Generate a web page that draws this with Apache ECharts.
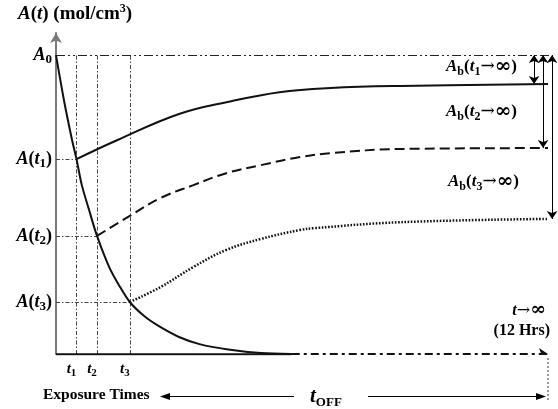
<!DOCTYPE html>
<html>
<head>
<meta charset="utf-8">
<script src="https://cdn.jsdelivr.net/npm/echarts@6/dist/echarts.min.js"></script>
<style>
  html, body { margin: 0; padding: 0; background: #fff; }
  #chart { width: 558px; height: 409px; }
</style>
</head>
<body>
<div id="chart"></div>
<script>
// 曝光后浓度衰减曲线 (A/A0, 时间为任意单位, 12 = 12 Hrs)
const decayT = [0, 0.2, 0.39, 0.5, 0.63, 0.8, 1.0, 1.3, 1.55, 1.8, 2.15, 2.5, 3.0, 3.5, 4.2, 5.0, 5.75];
const decayA = [1, 0.845, 0.717, 0.652, 0.565, 0.485, 0.395, 0.29, 0.227, 0.174, 0.127, 0.094, 0.057, 0.033, 0.015, 0.003, 0];

// 三个曝光时间点
const expT = [0.5, 1.0, 1.8];
const expA = [0.652, 0.395, 0.174];

// 恢复曲线
const rec1T = [0.5, 1.5, 3.0, 4.25, 5.45, 6.7, 8.4, 12];
const rec1A = [0.652, 0.716, 0.803, 0.845, 0.876, 0.89, 0.897, 0.903];
const rec2T = [1.0, 1.8, 2.55, 3.35, 4.15, 5.0, 5.95, 6.7, 8.4, 12];
const rec2A = [0.395, 0.462, 0.522, 0.565, 0.605, 0.632, 0.659, 0.672, 0.686, 0.689];
const rec3T = [1.8, 2.55, 3.35, 4.15, 5.0, 5.95, 6.3, 8.4, 12];
const rec3A = [0.174, 0.224, 0.291, 0.348, 0.385, 0.415, 0.421, 0.441, 0.452];

// 刻度标签
const yLabels = ['{i|A}{s|0}', '{i|A}{n|(}{i|t}{s|1}{n|)}', '{i|A}{n|(}{i|t}{s|2}{n|)}', '{i|A}{n|(}{i|t}{s|3}{n|)}'];
const xLabels = ['{i|t}{s|1}', '{i|t}{s|2}', '{i|t}{s|3}'];
const gapLabels = ['{i|A}{s|b}{n|(}{i|t}{s|1}{a|→}{f|∞}{n|)}', '{i|A}{s|b}{n|(}{i|t}{s|2}{a|→}{f|∞}{n|)}', '{i|A}{s|b}{n|(}{i|t}{s|3}{a|→}{f|∞}{n|)}'];

const SERIF = 'Liberation Serif';
const zip = (xs, ys) => xs.map((x, i) => [x, ys[i]]);

function richStyle(size, subSize) {
  const lh = size + 4;
  return {
    i: { fontFamily: SERIF, fontWeight: 'bold', fontStyle: 'italic', fontSize: size, color: '#000', lineHeight: lh },
    n: { fontFamily: SERIF, fontWeight: 'bold', fontSize: size, color: '#000', lineHeight: lh },
    a: { fontFamily: 'DejaVu Serif', fontSize: size, color: '#000', lineHeight: lh },
    f: { fontFamily: 'DejaVu Serif', fontWeight: 'bold', fontSize: size + 3, color: '#000', lineHeight: lh },
    s: { fontFamily: SERIF, fontWeight: 'bold', fontSize: subSize, color: '#000', verticalAlign: 'bottom', lineHeight: subSize + 2 },
    u: { fontFamily: SERIF, fontWeight: 'bold', fontSize: subSize, color: '#000', verticalAlign: 'top', lineHeight: subSize }
  };
}

const chart = echarts.init(document.getElementById('chart'));

const thinGuide = { color: '#444', width: 1, type: [4, 2, 1.5, 2], opacity: 1 };
const plateau = [rec1A[rec1A.length - 1], rec2A[rec2A.length - 1], rec3A[rec3A.length - 1]];
const gapX = [11.66, 11.88, 12.1];

const option = {
  animation: false,
  grid: { left: 56, right: 1.8, top: 33, bottom: 55 },
  xAxis: {
    type: 'value',
    min: 0,
    max: 12.2,
    axisLine: { show: false },
    axisTick: { show: false },
    splitLine: { show: false },
    axisLabel: {
      customValues: expT,
      margin: 6,
      padding: [0, 10, 0, 0],
      formatter: function (v) {
        return xLabels[expT.indexOf(v)] || '';
      },
      rich: richStyle(15, 11)
    }
  },
  yAxis: {
    type: 'value',
    min: 0,
    max: 1.074,
    splitLine: { show: false },
    axisTick: { show: false },
    axisLine: {
      show: true,
      symbol: ['none', 'arrow'],
      symbolSize: [9, 10],
      lineStyle: { color: '#7a7a7a', width: 2 }
    },
    axisLabel: {
      customValues: [1].concat(expA),
      margin: 4,
      formatter: function (v) {
        const idx = [1].concat(expA).indexOf(v);
        return yLabels[idx] || '';
      },
      rich: richStyle(18, 13)
    }
  },
  series: [
    // 辅助虚线
    {
      type: 'lines',
      coordinateSystem: 'cartesian2d',
      silent: true,
      z: 1,
      lineStyle: thinGuide,
      data: expT.map((t) => ({ coords: [[t, 0], [t, 1]] }))
        .concat(expT.map((t, i) => ({ coords: [[0, expA[i]], [t, expA[i]]] })))
    },
    {
      type: 'lines',
      coordinateSystem: 'cartesian2d',
      silent: true,
      z: 1,
      lineStyle: { color: '#222', width: 1.2, type: [9, 3, 2, 3, 2, 3], opacity: 1 },
      data: [{ coords: [[0, 1], [gapX[2], 1]] }]
    },
    // x 轴
    {
      type: 'lines',
      coordinateSystem: 'cartesian2d',
      silent: true,
      z: 3,
      lineStyle: { color: '#111', width: 2.5, opacity: 1 },
      data: [{ coords: [[0, 0], [5.75, 0]] }]
    },
    {
      type: 'lines',
      coordinateSystem: 'cartesian2d',
      silent: true,
      z: 3,
      symbol: ['none', 'arrow'],
      symbolSize: 9,
      lineStyle: { color: '#111', width: 2, type: [8, 4, 3, 4], opacity: 1 },
      data: [{ coords: [[5.75, 0], [12, 0]] }]
    },
    // 右侧差值箭头
    {
      type: 'lines',
      coordinateSystem: 'cartesian2d',
      silent: true,
      z: 4,
      symbol: ['arrow', 'arrow'],
      symbolSize: 8,
      lineStyle: { color: '#000', width: 1, opacity: 1 },
      data: plateau.map((p, i) => ({ coords: [[gapX[i], 1], [gapX[i], p]] }))
    },
    // 曲线
    {
      type: 'line',
      data: zip(decayT, decayA),
      smooth: 0.3,
      symbol: 'none',
      z: 5,
      lineStyle: { color: '#111', width: 2 }
    },
    {
      type: 'line',
      data: zip(rec1T, rec1A),
      smooth: 0.4,
      symbol: 'none',
      z: 5,
      lineStyle: { color: '#111', width: 2 }
    },
    {
      type: 'line',
      data: zip(rec2T, rec2A),
      smooth: 0.4,
      symbol: 'none',
      z: 5,
      lineStyle: { color: '#111', width: 2, type: [10, 5] }
    },
    {
      type: 'line',
      data: zip(rec3T, rec3A),
      smooth: 0.4,
      symbol: 'none',
      z: 5,
      lineStyle: { color: '#111', width: 2.5, type: [1.6, 1.6] }
    }
  ],
  graphic: [
    // 标题
    {
      type: 'text', left: 18, top: 3,
      style: {
        text: '{i|A}{n|(}{i|t}{n|) (mol/cm}{u|3}{n|)}',
        rich: richStyle(19, 12)
      }
    },
    // 右侧标注
    { type: 'text', left: 446, top: 57, style: { text: gapLabels[0], rich: richStyle(17, 12) } },
    { type: 'text', left: 446, top: 102, style: { text: gapLabels[1], rich: richStyle(17, 12) } },
    { type: 'text', left: 448, top: 172, style: { text: gapLabels[2], rich: richStyle(17, 12) } },
    { type: 'text', right: 12, top: 301, style: { text: '{i|t}{a|→}{f|∞}', rich: richStyle(16, 11) } },
    { type: 'text', right: 8, top: 323, style: { text: '{n|(12 Hrs)}', rich: richStyle(16, 11) } },
    // 底部标注
    {
      type: 'text', left: 43, top: 387,
      style: { text: 'Exposure Times', fontFamily: SERIF, fontWeight: 'bold', fontSize: 15.5, fill: '#000' }
    },
    {
      type: 'text', left: 310, top: 386,
      style: { text: '{i|t}{o|OFF}', rich: Object.assign(richStyle(21, 13), {
        o: { fontFamily: SERIF, fontWeight: 'bold', fontSize: 13, color: '#000', verticalAlign: 'bottom', lineHeight: 15 }
      }) }
    },
    { type: 'line', shape: { x1: 168, y1: 396.5, x2: 294, y2: 396.5 }, style: { stroke: '#000', lineWidth: 1 } },
    { type: 'polygon', shape: { points: [[160, 396.5], [170, 393], [170, 400]] }, style: { fill: '#000' } },
    { type: 'line', shape: { x1: 368, y1: 396.5, x2: 538, y2: 396.5 }, style: { stroke: '#000', lineWidth: 1 } },
    { type: 'polygon', shape: { points: [[546, 396.5], [536, 393], [536, 400]] }, style: { fill: '#000' } },
    { type: 'line', shape: { x1: 548, y1: 358, x2: 548, y2: 402 }, style: { stroke: '#333', lineWidth: 1, lineDash: [2, 2] } }
  ]
};

chart.setOption(option);
</script>
</body>
</html>
